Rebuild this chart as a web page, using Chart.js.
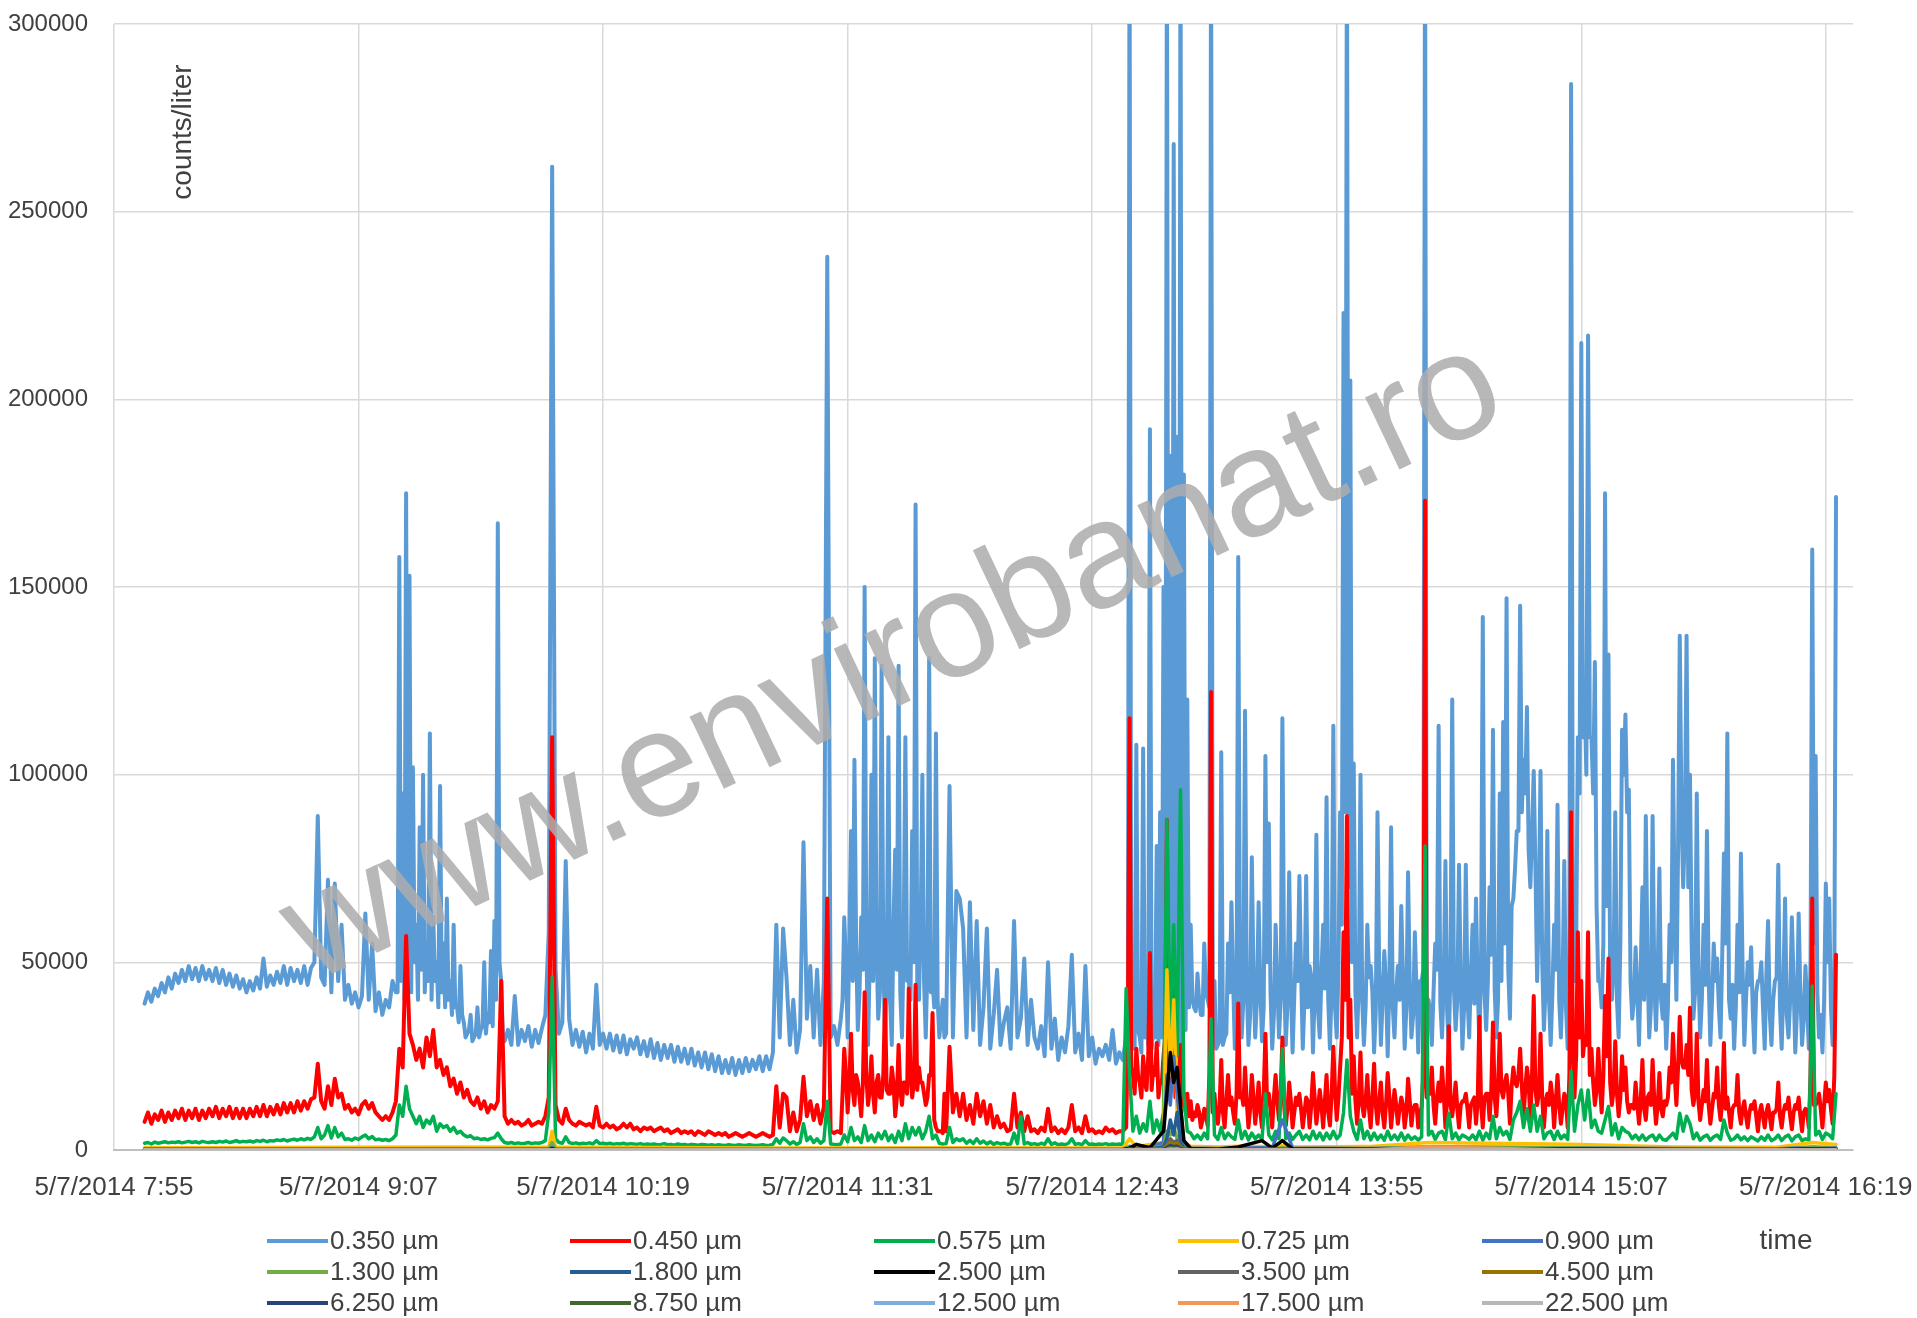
<!DOCTYPE html>
<html>
<head>
<meta charset="utf-8">
<script src="https://cdn.jsdelivr.net/npm/chart.js@4.4.1/dist/chart.umd.min.js"></script>
<style>
html,body{margin:0;padding:0;background:#fff;}
#wrap{width:1917px;height:1318px;position:relative;}
</style>
</head>
<body>
<div id="wrap"><canvas id="c" width="1917" height="1318"></canvas></div>
<script>
const FONT = "'Liberation Sans', Arial, sans-serif";

// Main channels: one reading per minute from 8:04 (minute 484 of the day)
const sampleStartMin = 484;
const sampleStepMin = 1;

// 0.350 µm (counts/liter), per minute
const blue350 = [
39000,42000,39500,43000,41000,44500,42000,46000,43000,47000,
44500,48000,45000,49000,45500,48500,45000,49000,45500,48000,
45000,48500,44500,48000,44000,47000,43500,46500,43000,45500,
42000,45000,42500,46000,43000,51000,43500,46500,44000,47500,
44500,49000,44000,48500,45000,48000,44500,49000,44000,48500,
50000,89000,46000,44000,72000,42000,71000,45000,60000,40000,
44000,39000,42000,38000,41000,63000,40000,55000,37000,42000,
36000,40000,38000,45000,42000,158000,95000,175000,153000,102000,
60000,86000,100000,55000,111000,62000,50000,97000,55000,67000,
45000,60000,38000,49000,34000,31000,36000,30000,38000,32000,
50000,36000,53000,61000,167000,45000,29000,32000,28000,41000,
28000,32000,29000,33000,27500,32000,28500,32500,36000,58000,
262000,48000,31000,34000,77000,35000,28000,32000,27500,31500,
26000,31000,27000,44000,28000,31000,27000,31000,26500,30500,
26000,30500,25500,29500,27000,30000,25500,29000,25000,29500,
24500,28500,24000,28000,24500,28000,23500,27500,23500,27000,
23000,27000,22500,26000,22000,26000,21500,25500,21000,25000,
20500,24000,20500,24500,20000,24000,20500,24500,21000,24000,
21500,25000,21000,25000,21500,26000,60000,30000,59000,46000,
28000,40000,26000,32000,82000,35000,49000,30000,48000,28000,
45000,238000,30000,33000,28000,35000,62000,30000,85000,104000,
32000,62000,150000,28000,100000,131000,35000,129000,30000,110000,
28000,80000,129000,30000,110000,45000,85000,172000,40000,100000,
30000,131000,45000,111000,30000,40000,31000,97000,30000,69000,
67000,59000,30000,66000,32000,61000,28000,38000,59000,27000,
36000,48000,28000,34000,38000,27000,61000,30000,35000,51000,
28000,40000,30000,27000,33000,25000,50000,27000,35000,24000,
30000,26000,33000,52000,26000,31000,24000,49000,25000,30000,
23000,27000,25000,28000,24000,32000,23000,26000,24000,30000,
330000,35000,108000,30000,107000,40000,192000,32000,81000,90000,
150000,330000,185000,268000,190000,330000,180000,120000,60000,38000,
47000,36000,55000,40000,330000,45000,28000,106000,30000,55000,
66000,27000,158000,30000,117000,28000,78000,30000,66000,29000,
105000,87000,27000,60000,30000,115000,28000,74000,26000,55000,
73000,27000,73000,49000,26000,84000,30000,60000,94000,27000,
113000,30000,90000,223000,330000,205000,103000,30000,100000,28000,
60000,49000,26000,90000,28000,53000,25000,86000,30000,49000,
65000,27000,74000,30000,58000,26000,45000,330000,40000,28000,
55000,113000,30000,77000,27000,120000,32000,76000,27000,76000,
30000,60000,67000,28000,142000,32000,70000,112000,30000,95000,
114000,147000,35000,67000,85000,145000,104000,118000,70000,101000,
45000,101000,32000,85000,28000,60000,92000,30000,77000,27000,
284000,45000,110000,215000,120000,217000,110000,130000,45000,38000,
175000,132000,40000,90000,30000,112000,116000,96000,35000,54000,
28000,70000,89000,30000,89000,32000,75000,35000,27000,60000,
104000,40000,137000,70000,137000,100000,35000,95000,30000,60000,
85000,28000,55000,51000,30000,79000,111000,35000,27000,60000,
79000,28000,50000,54000,26000,45000,50000,27000,61000,28000,
45000,76000,27000,67000,30000,62000,26000,63000,28000,49000,
27000,160000,105000,30000,26000,71000,67000,28000,174000
];

// 0.350 µm extra half-minute readings inside the dense bursts
const blueHalfStartA = 558.5;
const blueHalfA = [
42000,45000,40000,48000,42000,50000,40000,48000,42000,45000,
40000,45000,38000,42000,38000,40000,36000,38000,34000,36000,
30000,32000,29000,31000,30000,33000,31000,34000,33000,40000,
50000,30000
];
const blueHalfStartB = 689.5;
const blueHalfB = [
40000,50000,55000,45000,55000,42000,48000,55000,50000,45000,
55000,42000,52000,45000,40000,60000,48000,42000,55000,45000,
40000,50000,45000,60000,45000,50000,42000,38000,40000,35000,
30000
];
const blueHalfStartC = 773.5;
const blueHalfC = [
28000,30000,27000,32000,26000,30000,28000,27000,30000,28000,
30000,25000,28000,26000,30000,27000,26000,32000,38000,40000,
37000,40000,36000,42000,38000,30000,27000,29000,28000,31000,
42000,45000,38000,48000,40000,44000,36000,46000,40000,43000,
38000,50000,42000,36000,45000,40000,48000,39000,44000,41000,
45000,48000,40000,38000,46000,42000,37000,47000,43000,40000,
44000,38000,48000,60000,90000,70000,50000,42000,45000,40000,
38000,46000,42000,37000,48000,40000,44000,45000,38000,42000,
40000,46000,38000,44000,36000,42000,45000,48000,40000,37000,
42000,48000,39000,45000,37000,50000,43000,40000,46000,38000,
41000,47000,39000,44000,50000,42000,45000,52000,43000,40000,
45000,55000,48000,65000,75000,85000,90000,95000,80000,85000,
75000,65000,50000,44000,40000,42000,48000,40000,45000,38000,
50000,65000,55000,95000,110000,100000,110000,95000,65000,45000,
55000,65000,45000,48000,40000,55000,100000,90000,45000,40000,
42000,48000,40000,50000,38000,45000,47000,40000,44000,38000,
50000,65000,80000,90000,85000,70000,55000,42000,48000,40000,
44000,46000,40000,45000,38000,52000,55000,40000,44000,38000,
42000,48000,40000,44000,37000,42000,45000,38000,47000,36000,
40000,46000,38000,44000,36000,40000,45000,37000,42000,35000,
38000,50000,55000,42000,36000,40000,50000,38000,42000
];

// 0.450 µm, per minute
const red450 = [
7500,10000,7000,9500,8000,10500,7500,10000,8000,10500,
8500,11000,8000,10500,8500,11000,8000,10500,8500,11000,
9000,11500,8500,11000,9000,11500,8500,11000,8500,11000,
8500,11000,9000,11500,9000,12000,9000,11500,9500,12000,
9500,12500,10000,12500,10000,13000,10500,13000,11000,13500,
14000,23000,13000,11000,17000,12000,19000,14000,15000,11000,
12000,10000,11000,9500,12000,13000,11000,12500,10000,9000,
8000,9000,8000,10000,13000,27000,22000,57000,31000,28000,
24000,27000,22000,30000,25000,32000,22000,24000,20000,22000,
17000,19000,15000,18000,14000,16000,13000,12000,14000,11000,
13000,10000,12000,11000,13000,45000,9000,7000,8000,7000,
7500,6500,7000,8000,6500,7000,7500,7000,9000,14000,
110000,12000,8000,7000,11000,8000,7000,6500,7500,7000,
6500,7000,6000,11500,6500,6000,7000,6000,6500,5500,
6000,7000,6000,7000,5500,6000,5000,6000,5500,6000,
5000,5500,6000,5000,5500,4500,5000,5500,4500,5000,
4500,5000,4000,5000,4500,4000,5000,4500,4000,4500,
4000,4500,3500,4000,4500,4000,3500,4000,4500,4000,
3500,4000,4500,4000,3500,4000,17000,6000,15000,14000,
5000,10000,5000,8000,19500,9000,13000,8000,12000,7000,
11500,67000,5000,4500,5000,4500,27000,10000,31000,12000,
18000,9000,42000,12000,25000,10000,20000,14000,40000,15000,
22000,9000,28000,12000,18000,43000,14000,44000,22000,18000,
12000,20000,36500,6000,5000,4500,5000,27500,10000,15000,
9000,15000,8000,12000,7000,15000,9000,13000,7000,12000,
6000,9000,6000,7000,5000,5500,15000,6000,10000,5000,
9000,5000,5500,4500,6000,5000,11000,5000,6000,4500,
5500,4500,6000,12000,5000,6000,4500,9000,5000,5500,
4500,5000,4500,6000,5000,5500,4500,5000,5000,6000,
115000,20000,27000,18000,25000,16000,52500,22000,28500,18000,
25000,88000,25000,50000,20000,28000,15000,15000,13000,10000,
12000,6000,11000,6500,122000,15000,7000,24000,6000,20000,
14000,7000,39000,15000,22000,6000,20000,7000,18000,6000,
31000,15000,6000,20000,8000,30000,6500,18000,6000,14000,
15000,6000,14000,6000,20500,7000,16000,6000,20000,6500,
27500,8000,22000,58000,89000,40000,25000,7000,26000,9000,
20000,6000,23000,7000,18000,6000,20500,6000,16000,7000,
14000,6000,19000,6500,12000,6000,11500,173000,15000,22000,
7000,18000,22000,6000,33000,9000,18000,6000,13000,15000,
6000,13000,7000,35500,6000,15000,8000,34000,9000,31000,
14000,20000,7000,22000,17000,27000,9000,22000,8000,41000,
12000,31000,6000,15000,18000,6000,20000,7000,15000,6000,
90000,14000,58000,45000,30000,58000,27000,12000,27000,10000,
41000,51000,12000,29000,9000,25000,22000,10000,12000,18000,
7000,24000,8000,15000,24000,7000,20500,9000,12000,22000,
31000,12000,35500,22000,28000,37900,12000,31000,8000,16000,
24000,7000,15000,22000,8000,28500,14000,6000,12000,20000,
7000,13000,6000,12000,13000,5000,12000,6000,12000,5500,
10000,18000,6000,12000,14000,5500,12000,14000,5000,11000,
6000,67000,12000,15000,6000,18000,16000,7000,52000
];

// 0.450 µm extra half-minute readings inside the dense bursts
const redHalfStartB = 689.5;
const redHalfB = [
15000,20000,18000,16000,20000,14000,18000,20000,16000,15000,
18000,14000,20000,16000,15000,18000,14000,16000,18000,15000,
20000,18000,16000,18000,15000,14000,20000,8000,5000,5000,
15000
];
const redHalfStartC = 773.5;
const redHalfC = [
30000,22000,15000,20000,14000,18000,25000,16000,20000,14000,
18000,30000,15000,25000,14000,20000,12000,10000,9000,8000,
9000,10000,8000,9000,20000,10000,9000,12000,10000,13000,
12000,10000,15000,14000,12000,13000,11000,14000,12000,10000,
15000,12000,11000,14000,13000,15000,12000,11000,13000,10000,
12000,11000,10000,13000,12000,14000,11000,12000,13000,10000,
15000,16000,14000,30000,40000,30000,15000,13000,14000,12000,
13000,11000,14000,12000,13000,10000,12000,14000,11000,12000,
11000,12000,10000,13000,11000,12000,10000,20000,14000,15000,
12000,14000,13000,15000,14000,12000,13000,11000,12000,13000,
11000,12000,14000,13000,12000,14000,15000,16000,14000,17000,
16000,18000,15000,17000,18000,20000,17000,16000,18000,20000,
16000,15000,14000,13000,12000,14000,13000,12000,11000,13000,
20000,30000,25000,30000,25000,28000,20000,18000,16000,17000,
20000,25000,18000,16000,15000,14000,16000,13000,12000,11000,
12000,13000,11000,14000,12000,13000,12000,11000,13000,14000,
18000,20000,22000,24000,22000,20000,16000,15000,13000,12000,
13000,12000,11000,14000,12000,13000,11000,10000,11000,12000,
10000,11000,9000,10000,11000,9000,10000,9000,10000,9000,
10000,11000,9000,10000,11000,9000,10000,11000,9000,10000,
10000,20000,12000,13000,11000,12000,13000,11000,20000
];

// 0.575 µm, per minute
const green575 = [
1800,2000,1600,2100,1800,2000,2200,1900,2100,2000,
2200,1900,2100,2300,2000,2200,1900,2300,2100,2000,
2200,2000,2300,2100,2400,2000,2200,2500,2100,2300,
2200,2400,2100,2500,2300,2600,2200,2500,2400,2700,
2500,2800,2400,2700,2900,2600,3000,2700,3100,2800,
3500,6000,3000,4000,6500,3200,6000,3500,4500,2800,
3000,2600,3200,2800,3500,4000,3000,3600,2700,2900,
2600,2800,2500,3000,4000,12000,9000,17000,11000,9000,
7000,9000,6000,8000,7000,9000,5000,7000,6000,6500,
5000,6000,4500,5000,4000,3500,3800,3000,3200,2800,
3000,2700,3100,3300,4500,3000,2000,1800,2000,1700,
1900,1700,1800,2000,1700,1900,1800,2000,2500,10000,
46000,3000,2000,1800,3500,2000,1700,1900,1600,1800,
1700,1900,1600,2500,1700,1800,1600,1800,1500,1700,
1600,1800,1500,1700,1600,1500,1700,1400,1600,1500,
1600,1400,1500,1700,1400,1500,1300,1600,1400,1500,
1300,1500,1400,1300,1500,1400,1300,1400,1200,1400,
1300,1200,1400,1300,1200,1400,1300,1200,1400,1300,
1200,1300,1400,1200,1300,1500,3000,1800,3200,2500,
1600,2200,1500,2000,7000,2500,3500,2000,3000,1800,
2500,13000,1600,1500,1400,1600,4000,2200,6000,2500,
3500,2000,6500,2500,4000,2200,4500,3000,5000,2500,
4000,2000,5000,2500,7000,3000,6000,4000,6000,3000,
5000,9000,3000,4000,1800,1600,1700,6000,2000,3000,
2500,3000,1800,2600,1700,3000,1800,2400,1600,2200,
1500,2000,1600,1800,1500,1600,4500,1700,9000,1600,
2000,1500,1700,1400,1800,1500,3000,1500,1900,1400,
1600,1400,1800,3000,1500,1700,1400,2500,1500,1600,
1400,1600,1500,1700,1400,1600,1500,1600,1500,43000,
20000,5000,9000,4500,7000,5000,13000,4500,8000,5000,
10000,88000,30000,60000,25000,96000,15000,5000,4500,3000,
4000,2800,4500,3000,35000,4000,2800,6000,3000,4500,
3500,2800,8000,3000,5000,2700,4500,3000,4000,2800,
15000,4000,2700,5000,3000,27000,3000,4500,2800,4000,
5000,2800,4000,2700,5000,3000,4500,2700,4500,3000,
5000,3000,4000,10000,24000,9000,5000,2800,8000,3000,
5000,2700,4500,2800,4000,2600,5000,2800,4000,2700,
4500,2600,4000,2800,3500,2600,3500,81000,4000,5000,
2800,4500,5000,2700,9800,3000,4500,2700,4000,3500,
2800,4000,2700,5000,2600,4500,3000,9000,3000,6000,
4000,5000,2800,8000,10000,13000,6000,11000,5000,12000,
5000,9000,3000,4500,5000,2800,5000,3000,4000,2800,
21000,5000,12000,16000,8000,16000,6000,8000,5000,4500,
8000,11600,4000,7000,3000,6000,5000,4500,3000,4000,
2700,4000,2600,3500,4000,2500,4000,2800,2600,3500,
4500,3000,9800,5000,9000,7000,3000,4500,2600,3500,
4000,2600,3500,4000,2800,8000,4500,2600,3000,4000,
2700,3500,2500,3500,3000,2400,3500,2600,4000,2500,
3000,4000,2500,3500,4000,2400,3500,4000,2500,3000,
2600,43700,4000,5000,2800,4500,4000,3000,15000
];

// Minor channels are read at these minutes only (they stay near zero except around 12:55)
const minorTimes = [484,544,574,603,604,605,664,724,772,774,776,780,784,785,786,787,788,789,790,792,800,806,813,816,819,822,844,862,904,934,964,975,982];
const s0725 = [600,700,800,700,5000,800,500,600,500,3000,800,1500,2000,48000,20000,40000,10000,12000,2000,1000,800,1000,900,800,1200,800,900,2000,1500,800,700,2000,1500];
const s0900 = [300,300,300,300,1500,300,200,300,200,1000,400,800,2000,20000,12000,25000,15000,6000,1500,500,400,500,600,500,8000,500,400,800,600,400,300,800,600];
const s1300 = [200,250,200,200,2000,200,150,200,150,800,300,500,1000,5000,4000,6000,3000,2000,800,300,250,300,300,250,600,300,250,800,500,250,200,600,400];
const s1800 = [100,100,100,100,600,100,80,100,80,400,150,300,800,3000,8000,4000,10000,2000,500,150,120,150,200,150,300,150,120,400,300,120,100,300,200];
const s2500 = [50,60,50,50,300,50,40,60,50,500,1500,600,5000,15000,26000,18000,22000,12000,2500,400,200,800,2500,500,2500,300,200,300,300,100,80,300,200];
const s3500 = [30,30,30,30,150,30,20,30,20,200,100,200,400,1500,3000,2000,2500,1000,300,100,80,100,300,200,250,100,50,200,150,50,40,150,100];
const s4500 = [20,20,20,20,100,20,15,20,15,150,80,150,300,1000,2000,1500,1800,700,200,80,60,80,200,150,180,80,40,150,100,40,30,100,80];
const s6250 = [10,10,10,10,60,10,8,10,8,80,40,80,150,600,1200,900,1000,400,100,40,30,40,100,80,90,40,20,80,60,20,15,60,40];
const s8750 = [5,5,5,5,30,5,4,5,4,40,20,40,80,300,600,450,500,200,50,20,15,20,50,40,45,20,10,40,30,10,8,30,20];
const s12500 = [3,3,3,3,15,3,2,3,2,20,10,20,40,150,300,220,250,100,25,10,8,10,25,20,22,10,5,20,15,5,4,15,10];
const s17500 = [2,2,2,2,10,2,1,2,1,10,5,10,20,80,150,110,120,50,12,5,4,5,12,10,11,5,3,800,8,3,2,8,5];
const s22500 = [1,1,1,1,5,1,1,1,1,5,3,5,10,40,80,60,60,25,6,3,2,3,6,5,5,3,2,6,4,2,1,4,3];

const seriesLabels = ["0.350 µm","0.450 µm","0.575 µm","0.725 µm","0.900 µm",
                      "1.300 µm","1.800 µm","2.500 µm","3.500 µm","4.500 µm",
                      "6.250 µm","8.750 µm","12.500 µm","17.500 µm","22.500 µm"];
const seriesColors = ["#5B9BD5","#FF0000","#00B050","#FFC000","#4472C4",
                      "#70AD47","#255E91","#000000","#636363","#997300",
                      "#264478","#43682B","#7CAFDD","#F1975A","#B7B7B7"];
const seriesWidths = [4, 4, 3.5, 3.5, 3.5, 3.5, 3.5, 3.5, 3.5, 3.5, 3.5, 3.5, 3.5, 3.5, 3.5];

const xTickMinutes = [475, 547, 619, 691, 763, 835, 907, 979];
const xTickLabels = ["5/7/2014 7:55","5/7/2014 9:07","5/7/2014 10:19","5/7/2014 11:31",
                     "5/7/2014 12:43","5/7/2014 13:55","5/7/2014 15:07","5/7/2014 16:19"];
const xMin = 475, xMax = 987;
const yTicks = [0, 50000, 100000, 150000, 200000, 250000, 300000];
const yTitle = "counts/liter";
const xTitle = "time";
const watermarkText = "www.envirobanat.ro";

function mainData(vals){ return vals.map((v,i)=>({x: sampleStartMin + i*sampleStepMin, y: v})); }
function halfData(start, vals){ return vals.map((v,i)=>({x: start + i, y: v})); }
function minorData(vals){ return minorTimes.map((t,i)=>({x: t, y: vals[i]})); }
const byX = (a,b)=>a.x-b.x;

const blueData = mainData(blue350)
  .concat(halfData(blueHalfStartA, blueHalfA))
  .concat(halfData(blueHalfStartB, blueHalfB))
  .concat(halfData(blueHalfStartC, blueHalfC))
  .sort(byX);
const redData = mainData(red450)
  .concat(halfData(redHalfStartB, redHalfB))
  .concat(halfData(redHalfStartC, redHalfC))
  .sort(byX);

const allData = [
  blueData, redData, mainData(green575),
  minorData(s0725), minorData(s0900), minorData(s1300), minorData(s1800), minorData(s2500),
  minorData(s3500), minorData(s4500), minorData(s6250), minorData(s8750), minorData(s12500),
  minorData(s17500), minorData(s22500)
];

const datasets = allData.map((d,i)=>({
  label: seriesLabels[i],
  data: d,
  borderColor: seriesColors[i],
  backgroundColor: seriesColors[i],
  borderWidth: seriesWidths[i],
  pointRadius: 0,
  tension: 0,
  fill: false,
  borderJoinStyle: 'round',
  borderCapStyle: 'round',
  order: allData.length - i
}));

const overlay = {
  id: 'overlay',
  afterDatasetsDraw(chart){
    const ctx = chart.ctx;
    ctx.save();
    ctx.translate(912, 700);
    ctx.rotate(-25.3*Math.PI/180);
    ctx.font = "151px " + FONT;
    ctx.fillStyle = "rgba(172,172,172,0.86)";
    ctx.textAlign = "center";
    ctx.textBaseline = "alphabetic";
    ctx.fillText(watermarkText, 0, 0);
    ctx.restore();
  },
  afterDraw(chart){
    const ctx = chart.ctx;
    ctx.save();
    ctx.translate(183, 132);
    ctx.rotate(-Math.PI/2);
    ctx.font = "28px " + FONT;
    ctx.fillStyle = "#404040";
    ctx.textAlign = "center";
    ctx.textBaseline = "middle";
    ctx.fillText(yTitle, 0, 0);
    ctx.restore();
    const colX = [267, 570, 874, 1178, 1482];
    const rowY = [1241, 1272, 1303];
    ctx.save();
    ctx.font = "26px " + FONT;
    ctx.textBaseline = "middle";
    ctx.textAlign = "left";
    seriesLabels.forEach((lab,i)=>{
      const cx = colX[i%5], cy = rowY[Math.floor(i/5)];
      ctx.strokeStyle = seriesColors[i];
      ctx.lineWidth = 4;
      ctx.lineCap = "butt";
      ctx.beginPath(); ctx.moveTo(cx, cy); ctx.lineTo(cx+61, cy); ctx.stroke();
      ctx.fillStyle = "#404040";
      ctx.fillText(lab, cx+63, cy+1);
    });
    ctx.font = "28px " + FONT;
    ctx.textAlign = "center";
    ctx.fillText(xTitle, 1786, 1241);
    ctx.restore();
  }
};

new Chart(document.getElementById('c'), {
  type: 'line',
  data: { datasets },
  options: {
    responsive: false,
    animation: false,
    devicePixelRatio: 1,
    parsing: false,
    normalized: true,
    layout: { padding: { top: 24, right: 64, left: 0, bottom: 0 } },
    plugins: { legend: { display: false }, tooltip: { enabled: false } },
    scales: {
      x: {
        type: 'linear', min: xMin, max: xMax,
        afterBuildTicks: s => { s.ticks = xTickMinutes.map(v=>({value: v})); },
        afterFit: s => { s.height = 168; s.paddingLeft = 0; s.paddingRight = 0; },
        ticks: { autoSkip: false, maxRotation: 0, minRotation: 0, padding: 22, color: '#404040',
                 font: { family: FONT, size: 26 },
                 callback: (v, i) => xTickLabels[i] },
        grid: { color: '#d9d9d9', lineWidth: 1.5, drawTicks: false },
        border: { display: true, color: '#bfbfbf', width: 2 }
      },
      y: {
        type: 'linear', min: 0, max: 300000,
        afterBuildTicks: s => { s.ticks = yTicks.map(v=>({value: v})); },
        afterFit: s => { s.width = 114; s.paddingTop = 0; s.paddingBottom = 0; },
        ticks: { padding: 26, color: '#404040', font: { family: FONT, size: 24 },
                 callback: v => String(v) },
        grid: { color: '#d9d9d9', lineWidth: 1.5, drawTicks: false },
        border: { display: false }
      }
    }
  },
  plugins: [overlay]
});
</script>
</body>
</html>
